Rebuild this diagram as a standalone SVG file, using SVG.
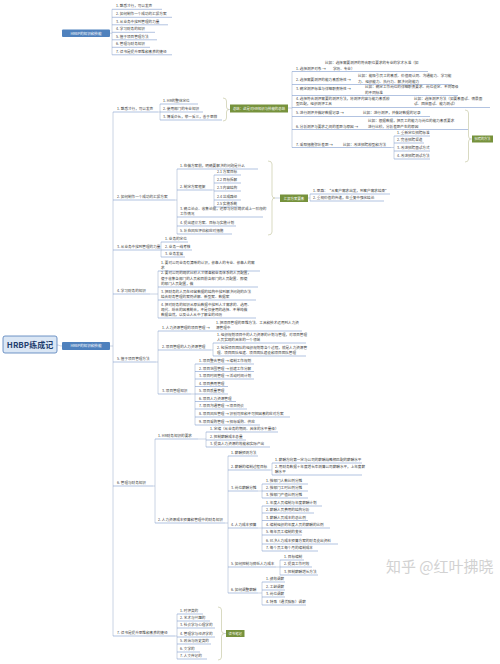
<svg xmlns="http://www.w3.org/2000/svg" width="500" height="664" viewBox="0 0 500 664">
<style>
.t{font-family:"Noto Sans CJK SC","Noto Sans",sans-serif;font-size:3.6px;fill:#3a3a3a}
.w{fill:#fff}
.c{text-anchor:middle}
.ul{stroke:#7d9bcc;stroke-width:0.6;fill:none}
.cn{fill:none;stroke:#9db0cf;stroke-width:0.55}
.br{fill:none;stroke:#c8caa8;stroke-width:0.7}
.gb{fill:#76923c}
.bb{fill:#4f81bd}
</style>
<rect width="500" height="664" fill="#fff"/>

<g id="connectors">
<path class="cn" d="M110,33.2 H112 M112,9.3 V54.8"/>
<path class="cn" d="M57,345 C59.5,345 59.5,346 62,346"/>
<path class="cn" d="M110,346 H113 M113,112 V636"/>
<path class="cn" d="M158,112 H160 M160,104 V120"/>
<path class="cn" d="M288,108 H292 M292,71.5 V147.5"/>
<path class="cn" d="M391,147.5 H394 M394,136 V159"/>
<path class="cn" d="M175,200 H177 M177,169 V234"/>
<path class="cn" d="M212,190 H214 M214,175 V207"/>
<path class="cn" d="M308,198 H310 M310,194 V201"/>
<path class="cn" d="M160,250 H161 M161,242 V257"/>
<path class="cn" d="M150,294 H158 M158,271 V318"/>
<path class="cn" d="M156,362 H158 M158,331 V394"/>
<path class="cn" d="M211,350 H213 M213,343 V356"/>
<path class="cn" d="M191,394 H195 M195,364 V425"/>
<path class="cn" d="M153,486 H155 M155,439 V523"/>
<path class="cn" d="M198,439 H206 M206,432 V447"/>
<path class="cn" d="M225,523 H228 M228,456 V593"/>
<path class="cn" d="M270,470 H272 M272,463 V475"/>
<path class="cn" d="M258,491 H262 M262,484 V498"/>
<path class="cn" d="M258,528 H262 M262,506 V551"/>
<path class="cn" d="M276,567 H280 M280,560 V575"/>
<path class="cn" d="M258,593 H262 M262,582 V605"/>
<path class="cn" d="M175,636 H177 M177,614 V659"/>
<path class="br" d="M223,98 Q226.5,98 226.5,101 V107 Q226.5,109.5 229,109.5 Q226.5,109.5 226.5,112 V118 Q226.5,121 223,121"/>
<path class="br" d="M465,110 Q468.5,110 468.5,113 V136 Q468.5,139 471,139 Q468.5,139 468.5,142 V159 Q468.5,162 465,162"/>
<path class="br" d="M268,161 Q272,161 272,164 V195 Q272,198 275,198 Q272,198 272,201 V232 Q272,235 268,235"/>
<path class="br" d="M218,607 Q221.5,607 221.5,610 V630.5 Q221.5,633.5 224.5,633.5 Q221.5,633.5 221.5,636.5 V657 Q221.5,660 218,660"/>
<path class="cn" d="M229,109.5 H230 M471,139 H472 M275,198 H280 M224.5,633.5 H226"/>
</g>

<g id="top-box"><rect class="bb" x="62" y="29.5" width="48" height="7.5" rx="1"/><text class="t w c" x="86" y="34.6">HRBP的知识和技能</text></g>
<g id="top-1"><text class="t" x="116" y="7.3">1. 熟悉才行，可以发声</text><path class="ul" d="M112,9.3 H162"/></g>
<g id="top-2"><text class="t" x="116" y="15.3">2. 如何制作一个成功的汇报方案</text><path class="ul" d="M112,17.3 H172"/></g>
<g id="top-3"><text class="t" x="116" y="22.8">3. 从业务中找到管理的力量</text><path class="ul" d="M112,24.8 H168"/></g>
<g id="top-4"><text class="t" x="116" y="30.3">4. 学习财务的知识</text><path class="ul" d="M112,32.3 H155"/></g>
<g id="top-5"><text class="t" x="116" y="37.8">5. 擅于项目管理方法</text><path class="ul" d="M112,39.8 H157"/></g>
<g id="top-6"><text class="t" x="116" y="45.3">6. 管理与财务知识</text><path class="ul" d="M112,47.3 H150"/></g>
<g id="top-7"><text class="t" x="116" y="52.8">7. 读书是提升思维和素养的捷径</text><path class="ul" d="M112,54.8 H172"/></g>

<g id="root"><rect x="3" y="336" width="54" height="17" rx="2" fill="#dbe7f5" stroke="#4f7cb8" stroke-width="0.8"/><text class="t c" x="30" y="347.6" style="font-size:8px;font-weight:bold;fill:#1f3d6e">HRBP练成记</text></g>
<g id="main-box"><rect class="bb" x="62" y="342" width="48" height="8" rx="1"/><text class="t w c" x="86" y="347.3">HRBP的知识和技能</text></g>

<g id="L1"><text class="t" x="117" y="110.3">1. 熟悉才行，可以发声</text><path class="ul" d="M113,112 H158"/></g>
<g id="L1-1"><text class="t" x="163" y="102.3">1. HR的整体定位</text><path class="ul" d="M160,104 H198"/></g>
<g id="L1-2"><text class="t" x="163" y="110.3">2. 使用部门的专业知识</text><path class="ul" d="M160,112 H203"/></g>
<g id="L1-3"><text class="t" x="163" y="118.3">3. 博采众长，举一反三，善于思辨</text><path class="ul" d="M160,120 H222"/></g>
<g id="G1"><rect class="gb" x="230" y="104.5" width="58" height="8"/><text class="t w c" x="259" y="109.8" style="font-size:3.4px">总结：这是对HR知识与技能的总结</text></g>
<g id="G1-1"><text class="t" x="296" y="69.5">1. 选择测评对象 →</text><text class="t" x="325" y="63.5">比如：选择需要测评的符合职位要求的专业的学术水准（如</text><text class="t" x="333" y="69.5">学历、专业）</text><path class="ul" d="M292,71.5 H428"/></g>
<g id="G1-2"><text class="t" x="296" y="80.5">2. 选择需要测评的能力素质特性 →</text><text class="t" x="358" y="77">比如：能吸引员工的素质、价值观认同、沟通能力、学习能</text><text class="t" x="358" y="82.5">力、组织能力、执行力、解决问题能力</text><path class="ul" d="M292,84.5 H452"/></g>
<g id="G1-3"><text class="t" x="296" y="89.5">3. 确定测评标准与详细职责特性 →</text><text class="t" x="365" y="87.5">比如：确定工作岗位的详细职责要求、岗位设定、不同等级</text><text class="t" x="365" y="93.5">的不同标准</text><path class="ul" d="M292,95.5 H458"/></g>
<g id="G1-4"><text class="t" x="296" y="99.5">4. 选择符合测评需要的测评方法，将测评内容与能力素质模</text><text class="t" x="296" y="104.5">型匹配，组织测评工具</text><text class="t" x="414" y="99.5">比如：选择测评方法（如要素面试、情景面</text><text class="t" x="414" y="104.5">试、团体面试、能力测试）</text><path class="ul" d="M292,107.5 H490"/></g>
<g id="G1-5"><text class="t" x="296" y="114">5. 进行测评并做好数据记录 →</text><text class="t" x="363" y="114">比如：进行测评，并做好数据的记录</text><path class="ul" d="M292,116.5 H430"/></g>
<g id="G1-6"><text class="t" x="296" y="127.5">6. 分析测评与要求之间的差距与原因 →</text><text class="t" x="368" y="121.5">比如：根据数据，把员工的能力与岗位的能力素质要求</text><text class="t" x="368" y="127.5">进行比较，分析差距产生的原因</text><path class="ul" d="M292,129.5 H468"/></g>
<g id="G1-7"><text class="t" x="296" y="145.5">7. 采取措施弥补差距 →</text><text class="t" x="343" y="145.5">比如：改进招聘模型和方法</text><path class="ul" d="M292,147.5 H391"/></g>
<g id="G1-7-1"><text class="t" x="397" y="134.3">1. 重新定位招聘标准</text><path class="ul" d="M394,136 H430"/></g>
<g id="G1-7-2"><text class="t" x="397" y="141.3">2. 完善招聘渠道</text><path class="ul" d="M394,143 H424"/></g>
<g id="G1-7-3"><text class="t" x="397" y="149.3">3. 改进招聘面试方式</text><path class="ul" d="M394,151 H430"/></g>
<g id="G1-7-4"><text class="t" x="397" y="157.3">4. 改进招聘测试方法</text><path class="ul" d="M394,159 H430"/></g>
<g id="G2"><rect class="gb" x="472" y="135.5" width="21" height="7"/><text class="t w c" x="482.5" y="140.2" style="font-size:3.2px">招聘的方法</text></g>

<g id="L2"><text class="t" x="117" y="198.3">2. 如何制作一个成功的汇报方案</text><path class="ul" d="M113,200 H175"/></g>
<g id="L2-1"><text class="t" x="180" y="167.3">1. 在做方案前，明确要解决的问题是什么</text><path class="ul" d="M177,169 H258"/></g>
<g id="L2-2"><text class="t" x="180" y="188.3">2. 制定方案框架</text><path class="ul" d="M177,190 H212"/></g>
<g id="L2-2-1"><text class="t" x="217" y="173.3">2.1 方案目标</text><path class="ul" d="M214,175 H241"/></g>
<g id="L2-2-2"><text class="t" x="217" y="181.3">2.2 目标拆解</text><path class="ul" d="M214,183 H241"/></g>
<g id="L2-2-3"><text class="t" x="217" y="189.3">2.3 内容结构</text><path class="ul" d="M214,191 H241"/></g>
<g id="L2-2-4"><text class="t" x="217" y="198.3">2.4 达成路径</text><path class="ul" d="M214,200 H241"/></g>
<g id="L2-2-5"><text class="t" x="217" y="205.3">2.5 实施系统</text><path class="ul" d="M214,207 H241"/></g>
<g id="L2-3"><text class="t" x="180" y="210.3">3. 确立论点、收集论据，还原与分析现状或上一阶段的</text><text class="t" x="180" y="215.3">工作情况</text><path class="ul" d="M177,217 H263"/></g>
<g id="L2-4"><text class="t" x="180" y="224.3">4. 提出建议方案、目标与实施计划</text><path class="ul" d="M177,226 H236"/></g>
<g id="L2-5"><text class="t" x="180" y="232.3">5. 补充风险评估和应对措施</text><path class="ul" d="M177,234 H232"/></g>
<g id="G3"><rect class="gb" x="280" y="194.5" width="28" height="7.5"/><text class="t w c" x="294" y="199.5" style="font-size:3.4px">汇报方案要素</text></g>
<g id="G3-1"><text class="t" x="313" y="192.3">1. 思路：“从客户需求出发，到客户需求结束”</text><path class="ul" d="M310,194 H390"/></g>
<g id="G3-2"><text class="t" x="313" y="199.3">2. 重视价值的传递，在重复中强化结论</text><path class="ul" d="M310,201 H384"/></g>

<g id="L3"><text class="t" x="117" y="248.3">3. 从业务中找到管理的力量</text><path class="ul" d="M113,250 H160"/></g>
<g id="L3-1"><text class="t" x="165" y="240.3">1. 业务的定位</text><path class="ul" d="M161,242 H188"/></g>
<g id="L3-2"><text class="t" x="165" y="248.3">2. 业务一线考核</text><path class="ul" d="M161,250 H192"/></g>
<g id="L3-3"><text class="t" x="165" y="255.3">3. 业务发展</text><path class="ul" d="M161,257 H185"/></g>

<g id="L4"><text class="t" x="117" y="292.3">4. 学习财务的知识</text><path class="ul" d="M113,294 H150"/></g>
<g id="L4-1"><text class="t" x="161" y="264.3">1. 要对公司业务有清晰的认识，依靠人的专业、依靠人的需</text><text class="t" x="161" y="269.3">求</text><path class="ul" d="M158,271 H260"/></g>
<g id="L4-2"><text class="t" x="161" y="274.3">2. 要对公司的现状比较人才储备和业务体系的人员配置，</text><text class="t" x="161" y="279.8">便于收集各部门的人员和目前各部门的人员配置、即便</text><text class="t" x="161" y="285.3">的部门人员配置，做</text><path class="ul" d="M158,287 H258"/></g>
<g id="L4-3"><text class="t" x="161" y="293.3">3. 把财务的人员在经营数据的结构中找到解决问题的办法</text><text class="t" x="161" y="298.3">结合财务管理的案例讲解、新型案、数据案</text><path class="ul" d="M158,300 H256"/></g>
<g id="L4-4"><text class="t" x="161" y="306.3">4. 把对财务的知识从原始数据中找到人才需求的、选用、</text><text class="t" x="161" y="311.3">现代、综合的因素统合，不是仅使用的选择、不单纯做</text><text class="t" x="161" y="316.3">数据自然，以及让人从中了解全的经历</text><path class="ul" d="M158,318 H256"/></g>

<g id="L5"><text class="t" x="117" y="360.3">5. 擅于项目管理方法</text><path class="ul" d="M113,362 H156"/></g>
<g id="L5-1"><text class="t" x="162" y="329.3">1. 人力资源管理的项目管理 →</text><text class="t" x="216" y="324.3">1. 把项目管理的思维方法、工具和技术运用到人力资</text><text class="t" x="216" y="329.3">源管理中</text><path class="ul" d="M158,331 H302"/></g>
<g id="L5-2"><text class="t" x="162" y="348.3">2. 项目管理的人力资源管理</text><path class="ul" d="M158,350 H211"/></g>
<g id="L5-2-1"><text class="t" x="217" y="336.3">1. 组织规划项目中的人力资源的计划与管理，对项目管理</text><text class="t" x="217" y="341.3">人员实现的具体的一个领域</text><path class="ul" d="M213,343 H306"/></g>
<g id="L5-2-2"><text class="t" x="217" y="349.3">2. 包括项目团队的组织规划等各个过程，就是人力资源管</text><text class="t" x="217" y="354.3">理、项目团队组建、项目团队建设和项目团队管理</text><path class="ul" d="M213,356 H306"/></g>
<g id="L5-3"><text class="t" x="162" y="392.3">3. 项目管理知识</text><path class="ul" d="M158,394 H191"/></g>
<g id="L5-3-1"><text class="t" x="199" y="362.3">1. 项目整合管理 → 编制工作规划</text><path class="ul" d="M195,364 H254"/></g>
<g id="L5-3-2"><text class="t" x="199" y="369.8">2. 项目范围管理 → 创建工作分解</text><path class="ul" d="M195,371.5 H254"/></g>
<g id="L5-3-3"><text class="t" x="199" y="377.3">3. 项目时间管理 → 活动时间计划</text><path class="ul" d="M195,379 H254"/></g>
<g id="L5-3-4"><text class="t" x="199" y="384.8">4. 项目费用管理</text><path class="ul" d="M195,386.5 H228"/></g>
<g id="L5-3-5"><text class="t" x="199" y="392.3">5. 项目质量管理</text><path class="ul" d="M195,394 H228"/></g>
<g id="L5-3-6"><text class="t" x="199" y="399.8">6. 项目人力资源管理</text><path class="ul" d="M195,401.5 H236"/></g>
<g id="L5-3-7"><text class="t" x="199" y="407.3">7. 项目沟通管理 → 项目例会</text><path class="ul" d="M195,409 H247"/></g>
<g id="L5-3-8"><text class="t" x="199" y="415.3">8. 项目风险管理 → 识别可控和不可控因素的应对方案</text><path class="ul" d="M195,417 H290"/></g>
<g id="L5-3-9"><text class="t" x="199" y="423.3">9. 项目采购管理 → 招标采购、供应</text><path class="ul" d="M195,425 H260"/></g>

<g id="L6"><text class="t" x="117" y="484.3">6. 管理与财务知识</text><path class="ul" d="M113,486 H153"/></g>
<g id="L6-1"><text class="t" x="158" y="437.3">1. HR财务知识的要求</text><path class="ul" d="M155,439 H198"/></g>
<g id="L6-1-1"><text class="t" x="210" y="430.3">1. 定编（从业务的期间、具体的水平量级）</text><path class="ul" d="M206,432 H278"/></g>
<g id="L6-1-2"><text class="t" x="210" y="438.3">2. 控制薪酬成本总量</text><path class="ul" d="M206,440 H246"/></g>
<g id="L6-1-3"><text class="t" x="210" y="445.3">3. 提高人力资源的效能和实际产出</text><path class="ul" d="M206,447 H270"/></g>
<g id="L6-2"><text class="t" x="158" y="521.3">2. 人力资源成本预算和管理中的财务知识</text><path class="ul" d="M155,523 H225"/></g>
<g id="L6-2-1"><text class="t" x="231" y="454.3">1. 薪酬预测方法</text><path class="ul" d="M228,456 H258"/></g>
<g id="L6-2-2"><text class="t" x="231" y="468.3">2. 薪酬的编制过程目标</text><path class="ul" d="M228,470 H270"/></g>
<g id="L6-2-2-1"><text class="t" x="275" y="461.3">1. 薪酬方向第一定与公司的薪酬战略相匹配的薪酬水平</text><path class="ul" d="M272,463 H362"/></g>
<g id="L6-2-2-2"><text class="t" x="275" y="468.3">2. 用财务数据＋年度增长率测算公司薪酬水平，上年度薪</text><text class="t" x="275" y="473.3">酬水平</text><path class="ul" d="M272,475 H362"/></g>
<g id="L6-2-3"><text class="t" x="231" y="489.3">3. 岗位薪酬分摊</text><path class="ul" d="M228,491 H258"/></g>
<g id="L6-2-3-1"><text class="t" x="266" y="482.3">1. 按部门人数比例分摊</text><path class="ul" d="M262,484 H308"/></g>
<g id="L6-2-3-2"><text class="t" x="266" y="489.3">2. 按部门工时比例分摊</text><path class="ul" d="M262,491 H308"/></g>
<g id="L6-2-3-3"><text class="t" x="266" y="496.3">3. 按部门产值比例分摊</text><path class="ul" d="M262,498 H308"/></g>
<g id="L6-2-4"><text class="t" x="231" y="526.3">4. 人力成本预算</text><path class="ul" d="M228,528 H258"/></g>
<g id="L6-2-4-1"><text class="t" x="266" y="504.3">1. 年度人员编制与年度薪酬计划</text><path class="ul" d="M262,506 H322"/></g>
<g id="L6-2-4-2"><text class="t" x="266" y="511.3">2. 薪酬人员费用的结构分析</text><path class="ul" d="M262,513 H314"/></g>
<g id="L6-2-4-3"><text class="t" x="266" y="518.8">3. 薪酬人员成本的总比例</text><path class="ul" d="M262,520.5 H308"/></g>
<g id="L6-2-4-4"><text class="t" x="266" y="526.3">4. 编制组织的年度人员的薪酬的比例</text><path class="ul" d="M262,528 H330"/></g>
<g id="L6-2-4-5"><text class="t" x="266" y="533.3">5. 每年员工编制的变化</text><path class="ul" d="M262,535 H302"/></g>
<g id="L6-2-4-6"><text class="t" x="266" y="542.3">6. 已决人力成本预算方案的财务支出资料</text><path class="ul" d="M262,544 H338"/></g>
<g id="L6-2-4-7"><text class="t" x="266" y="549.3">7. 每个员工每个月的编制成本</text><path class="ul" d="M262,551 H318"/></g>
<g id="L6-2-5"><text class="t" x="231" y="565.3">5. 如何控制与降低人力成本</text><path class="ul" d="M228,567 H276"/></g>
<g id="L6-2-5-1"><text class="t" x="284" y="558.3">1. 目标编制</text><path class="ul" d="M280,560 H304"/></g>
<g id="L6-2-5-2"><text class="t" x="284" y="565.3">2. 提高工作时效</text><path class="ul" d="M280,567 H312"/></g>
<g id="L6-2-5-3"><text class="t" x="284" y="573.3">3. 控制薪酬增长方法</text><path class="ul" d="M280,575 H318"/></g>
<g id="L6-2-6"><text class="t" x="231" y="591.3">6. 如何调整薪酬</text><path class="ul" d="M228,593 H258"/></g>
<g id="L6-2-6-1"><text class="t" x="266" y="580.3">1. 绩效调薪</text><path class="ul" d="M262,582 H285"/></g>
<g id="L6-2-6-2"><text class="t" x="266" y="588.3">2. 工龄调薪</text><path class="ul" d="M262,590 H285"/></g>
<g id="L6-2-6-3"><text class="t" x="266" y="595.3">3. 岗位调薪</text><path class="ul" d="M262,597 H285"/></g>
<g id="L6-2-6-4"><text class="t" x="266" y="603.3">4. 特殊（通货膨胀）调薪</text><path class="ul" d="M262,605 H306"/></g>

<g id="L7"><text class="t" x="117" y="634.3">7. 读书是提升思维和素养的捷径</text><path class="ul" d="M113,636 H175"/></g>
<g id="L7-1"><text class="t" x="180" y="612.3">1. 时评类的</text><path class="ul" d="M177,614 H203"/></g>
<g id="L7-2"><text class="t" x="180" y="619.3">2. 艺术与兴趣的</text><path class="ul" d="M177,621 H210"/></g>
<g id="L7-3"><text class="t" x="180" y="626.3">3. 社会学与心理学的</text><path class="ul" d="M177,628 H215"/></g>
<g id="L7-4"><text class="t" x="180" y="635.3">4. 管理学与经济学的</text><path class="ul" d="M177,637 H215"/></g>
<g id="L7-5"><text class="t" x="180" y="642.3">5. 政治与历史类的</text><path class="ul" d="M177,644 H211"/></g>
<g id="L7-6"><text class="t" x="180" y="650.3">6. 文学的</text><path class="ul" d="M177,652 H200"/></g>
<g id="L7-7"><text class="t" x="180" y="657.3">7. 人文传记的</text><path class="ul" d="M177,659 H207"/></g>
<g id="G4"><rect class="gb" x="226" y="630" width="18.5" height="7"/><text class="t w c" x="235.2" y="634.7" style="font-size:3.4px">读书笔记</text></g>

<g id="watermark"><text x="386" y="572" style="font-family:'Noto Sans CJK SC','Noto Sans',sans-serif;font-size:15px;fill:#d2d2d2">知乎 @红叶拂晓</text></g>
</svg>
